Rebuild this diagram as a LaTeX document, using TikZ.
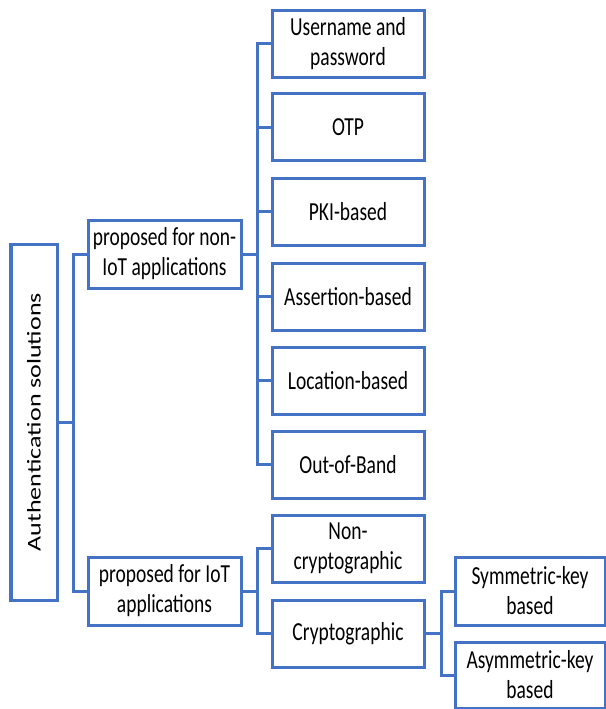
\documentclass[tikz,border=0pt]{standalone}
\usepackage{fontspec}
\setmainfont{Carlito}[FakeStretch=0.75]
\newfontfamily\rotfont{Carlito}
\definecolor{boxblue}{RGB}{68,114,196}
\begin{document}
\begin{tikzpicture}[x=0.5pt, y=-0.5pt,
  font=\fontsize{13}{15}\selectfont,
  box/.style={draw=boxblue, line width=1.5pt, fill=white, align=center, inner sep=0pt},
  leaf/.style={box, minimum width=76pt, minimum height=33.5pt},
  link/.style={draw=boxblue, line width=1.5pt}]
\useasboundingbox (0,0) rectangle (606,709);
\node[box, minimum width=23pt, minimum height=178pt] (root) at (34,422)
  {\rotatebox{90}{\scalebox{1}[0.75]{\rotfont Authentication solutions}}};
\node[leaf, minimum width=76.5pt, minimum height=34pt] (nonIoT) at (164.5,254) {proposed for non-\\IoT applications};
\node[leaf, minimum width=76.5pt, minimum height=34pt] (IoT) at (164.5,591) {proposed for IoT\\applications};
\node[leaf] (user) at (348,43.5) {Username and\\password};
\node[leaf] (otp) at (348,127) {OTP};
\node[leaf] (pki) at (348,211.5) {PKI-based};
\node[leaf] (assert) at (348,296.5) {Assertion-based};
\node[leaf] (loc) at (348,380.5) {Location-based};
\node[leaf] (oob) at (348,464.5) {Out-of-Band};
\node[leaf] (noncrypto) at (348,548.5) {Non-\\cryptographic};
\node[leaf] (crypto) at (348,633.5) {Cryptographic};
\node[leaf, minimum width=75pt, minimum height=34pt] (sym) at (530,591) {Symmetric-key\\based};
\node[leaf, minimum width=75pt, minimum height=33pt] (asym) at (530,675) {Asymmetric-key\\based};
% trunks
\path (root.east) ++(15,0) coordinate (t0);
\path (nonIoT.east) ++(15,0) coordinate (t1);
\path (IoT.east) ++(15,0) coordinate (t2);
\path (crypto.east) ++(16,0) coordinate (t3);
\draw[link] (root.east) -- (t0);
\draw[link] (nonIoT.east) -- (t1);
\draw[link] (IoT.east) -- (t2);
\draw[link] (crypto.east) -- (t3);
\foreach \n in {nonIoT,IoT}
  \draw[link] (\n.west) -| (t0);
\foreach \n in {user,otp,pki,assert,loc,oob}
  \draw[link] (\n.west) -| (t1);
\foreach \n in {noncrypto,crypto}
  \draw[link] (\n.west) -| (t2);
\foreach \n in {sym,asym}
  \draw[link] (\n.west) -| (t3);
\end{tikzpicture}
\end{document}
